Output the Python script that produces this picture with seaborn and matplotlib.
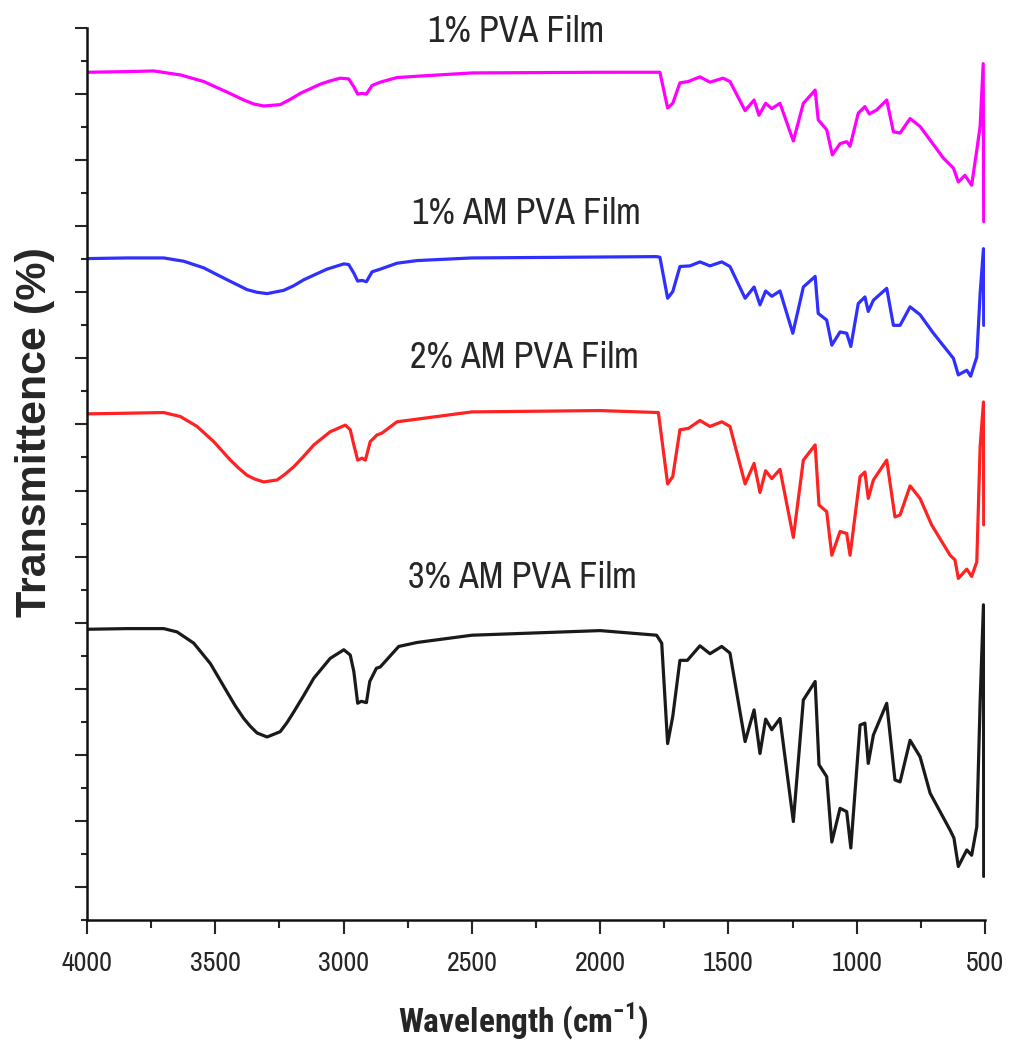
import matplotlib
matplotlib.use("Agg")
import matplotlib.pyplot as plt
from matplotlib import font_manager
from matplotlib.ticker import MultipleLocator
import seaborn as sns
import pandas as pd

# FTIR spectra of PVA films (wavenumber in cm^-1, stacked transmittance)
wn_pva1 = [4000, 3844, 3740, 3636, 3545, 3500, 3454, 3389, 3350, 3311,
           3247, 3208, 3169, 3130, 3091, 3052, 3013, 2980, 2960, 2945,
           2928, 2911, 2889, 2857, 2792, 2714, 2500, 2000, 1780, 1767,
           1737, 1717, 1689, 1657, 1611, 1572, 1521, 1494, 1435, 1400,
           1381, 1355, 1331, 1299, 1247, 1208, 1162, 1150, 1117, 1095,
           1065, 1039, 1026, 994, 968, 951, 922, 883, 857, 831,
           792, 753, 662, 623, 604, 578, 552, 532, 519, 507, 505]
t_pva1 = [128.3, 128.4, 128.5, 127.9, 126.9, 126.1, 125.3, 124.1, 123.5, 123.2,
          123.4, 124.2, 125.1, 125.8, 126.5, 127.0, 127.4, 127.3, 126.1, 125.0,
          125.1, 125.0, 126.3, 126.8, 127.5, 127.7, 128.2, 128.3, 128.3, 128.3,
          122.9, 123.6, 126.7, 126.9, 127.6, 126.8, 127.4, 126.9, 122.5, 124.1,
          121.8, 123.6, 122.8, 123.6, 117.9, 123.6, 125.6, 121.1, 119.6, 115.8,
          117.5, 117.8, 117.1, 122.1, 123.1, 122.0, 122.6, 124.1, 119.3, 119.1,
          121.3, 120.1, 115.3, 113.8, 111.7, 112.7, 111.2, 116.5, 120.1, 129.6, 105.7]

wn_am1 = [4000, 3844, 3701, 3623, 3545, 3500, 3454, 3376, 3337, 3298,
          3233, 3194, 3155, 3110, 3065, 2999, 2980, 2960, 2945, 2928,
          2911, 2889, 2857, 2792, 2714, 2500, 1780, 1767, 1737, 1717,
          1689, 1650, 1611, 1572, 1526, 1494, 1435, 1400, 1377, 1355,
          1331, 1299, 1249, 1208, 1162, 1150, 1117, 1097, 1065, 1039,
          1023, 994, 968, 955, 935, 883, 857, 831, 792, 753,
          701, 623, 604, 571, 556, 532, 519, 506, 505]
t_am1 = [100.1, 100.2, 100.2, 99.7, 98.7, 97.8, 96.9, 95.4, 95.0, 94.8,
         95.3, 96.0, 96.9, 97.7, 98.5, 99.3, 99.2, 97.9, 96.7, 96.8,
         96.6, 98.1, 98.5, 99.4, 99.8, 100.2, 100.4, 100.3, 94.1, 95.1,
         98.9, 99.0, 99.6, 99.0, 99.6, 98.9, 94.1, 95.8, 93.1, 95.2,
         94.4, 95.2, 88.8, 95.8, 97.4, 91.8, 90.8, 87.0, 89.0, 88.8,
         86.8, 93.3, 94.3, 92.1, 93.8, 95.6, 90.0, 90.0, 92.8, 91.6,
         88.8, 85.0, 82.5, 83.2, 82.3, 85.2, 94.8, 101.6, 90.0]

wn_am2 = [4000, 3844, 3701, 3636, 3571, 3506, 3441, 3409, 3376, 3344,
          3311, 3259, 3227, 3194, 3155, 3116, 3052, 2993, 2974, 2960,
          2945, 2928, 2915, 2896, 2870, 2850, 2792, 2714, 2500, 2000,
          1773, 1737, 1717, 1689, 1656, 1611, 1572, 1526, 1494, 1435,
          1400, 1377, 1355, 1331, 1299, 1247, 1208, 1162, 1147, 1117,
          1097, 1065, 1039, 1026, 987, 968, 955, 935, 883, 851,
          831, 792, 753, 708, 636, 617, 604, 571, 552, 532,
          519, 506, 505]
t_am2 = [76.6, 76.7, 76.8, 76.2, 74.7, 72.4, 69.6, 68.4, 67.3, 66.7,
         66.3, 66.6, 67.5, 68.6, 70.2, 71.9, 73.9, 74.9, 74.2, 71.9,
         69.6, 69.9, 69.6, 72.4, 73.4, 73.7, 75.4, 75.8, 76.9, 77.1,
         76.8, 66.0, 67.1, 74.2, 74.4, 75.6, 74.7, 75.4, 74.7, 66.0,
         69.1, 64.7, 68.0, 66.8, 68.2, 57.9, 69.6, 71.9, 62.8, 61.8,
         55.2, 58.8, 58.5, 55.2, 67.1, 67.8, 63.8, 66.6, 69.6, 61.0,
         61.3, 65.7, 63.8, 59.8, 55.2, 54.5, 51.7, 53.1, 52.0, 54.2,
         71.6, 78.4, 59.8]

wn_am3 = [4000, 3844, 3701, 3649, 3584, 3519, 3454, 3422, 3389, 3363,
          3337, 3298, 3247, 3220, 3194, 3155, 3116, 3052, 2999, 2974,
          2960, 2945, 2931, 2911, 2898, 2872, 2857, 2785, 2714, 2500,
          2000, 1780, 1760, 1737, 1717, 1689, 1660, 1611, 1572, 1526,
          1494, 1435, 1400, 1377, 1355, 1331, 1299, 1247, 1208, 1162,
          1147, 1117, 1097, 1065, 1039, 1023, 987, 968, 955, 935,
          883, 851, 831, 792, 753, 714, 636, 621, 604, 571,
          552, 532, 519, 506, 505]
t_am3 = [44.0, 44.1, 44.1, 43.6, 41.9, 38.8, 34.5, 32.4, 30.5, 29.3,
         28.3, 27.7, 28.5, 29.9, 31.5, 34.0, 36.6, 39.6, 40.9, 40.1,
         37.6, 32.8, 33.1, 32.9, 36.1, 38.1, 38.3, 41.4, 42.0, 43.1,
         43.8, 43.1, 41.9, 26.7, 30.8, 39.3, 39.3, 41.5, 40.3, 41.4,
         40.4, 27.0, 31.8, 25.2, 30.4, 28.8, 30.5, 14.9, 33.3, 36.1,
         23.5, 21.7, 11.8, 16.9, 16.4, 10.9, 29.5, 29.8, 23.7, 28.0,
         32.8, 21.2, 20.9, 27.2, 24.7, 19.2, 13.6, 12.4, 8.1, 10.6,
         9.8, 14.1, 33.0, 47.7, 6.6]

sample_names = ["1% PVA Film", "1% AM PVA Film", "2% AM PVA Film", "3% AM PVA Film"]
line_colors = ["#ff00ff", "#2f2fff", "#ff2222", "#1a1a1a"]
label_pos = [(2671, 134.4), (2733, 107.0), (2741, 85.2), (2749, 51.8)]

sns.set_style("ticks")

# pick a narrow grotesque for labels and ticks
fonts = font_manager.fontManager.ttflist
installed = {f.name for f in fonts}
candidates = ["Liberation Sans Narrow", "Arial Narrow", "Archivo Narrow",
              "Roboto Condensed", "PT Sans Narrow", "Liberation Sans"]
narrow = next(c for c in candidates if c in installed)
bold_ok = {f.name for f in fonts if isinstance(f.weight, int) and f.weight >= 600
           or f.weight in ("bold", "semibold", "demibold")}
narrow_bold = next((c for c in candidates if c in installed and c in bold_ok), "Liberation Sans")

plt.rcParams["font.family"] = [narrow, "DejaVu Sans"]
plt.rcParams["mathtext.fontset"] = "custom"
plt.rcParams["mathtext.rm"] = narrow_bold
plt.rcParams["mathtext.bf"] = narrow_bold + ":bold"

fig = plt.figure(figsize=(10.09, 10.48), dpi=100)
ax = fig.add_axes([87 / 1009, 1 - 920 / 1048, 898 / 1009, 892 / 1048])

frames = []
for name, wn, t in zip(sample_names,
                       [wn_pva1, wn_am1, wn_am2, wn_am3],
                       [t_pva1, t_am1, t_am2, t_am3]):
    frames.append(pd.DataFrame({"wavenumber": wn, "transmittance": t, "sample": name}))
df = pd.concat(frames, ignore_index=True)

for name, color in zip(sample_names, line_colors):
    sub = df[df["sample"] == name].sort_values("wavenumber", ascending=False)
    sns.lineplot(data=sub, x="wavenumber", y="transmittance", color=color,
                 linewidth=2.3, sort=False, estimator=None, ax=ax,
                 solid_joinstyle="round", solid_capstyle="round")

for name, (x, y) in zip(sample_names, label_pos):
    ax.text(x, y, name, fontsize=26, ha="left", va="center",
            family=[narrow, "DejaVu Sans"], clip_on=False)

ax.set_xlim(4000, 500)
ax.set_ylim(0, 135)
ax.xaxis.set_major_locator(MultipleLocator(500))
ax.xaxis.set_minor_locator(MultipleLocator(250))
ax.yaxis.set_major_locator(MultipleLocator(10, offset=5))
ax.yaxis.set_minor_locator(MultipleLocator(10))
ax.tick_params(axis="y", which="major", direction="out", length=8.5, width=1.5, labelleft=False)
ax.tick_params(axis="y", which="minor", direction="out", length=4.5, width=1.5)
ax.tick_params(axis="x", which="major", direction="out", length=10, width=1.5,
               labelsize=20, pad=12)
ax.tick_params(axis="x", which="minor", direction="out", length=6, width=1.5)

sns.despine(ax=ax)
for side in ("left", "bottom"):
    ax.spines[side].set_linewidth(1.8)
    ax.spines[side].set_color("#111111")

ax.set_xlabel("")
ax.set_ylabel("")
fig.text(523 / 1009, 1 - 1021 / 1048, r"Wavelength (cm$^{\mathbf{-1}}$)", fontsize=24,
         fontweight="bold", ha="center", va="center", family=[narrow_bold, "DejaVu Sans"])
fig.text(35 / 1009, 1 - 432 / 1048, "Transmittence (%)", fontsize=31, fontweight="bold",
         rotation=90, ha="center", va="center", family=["Liberation Sans", "DejaVu Sans"])

fig.savefig("out.png", dpi=100, facecolor="white")
